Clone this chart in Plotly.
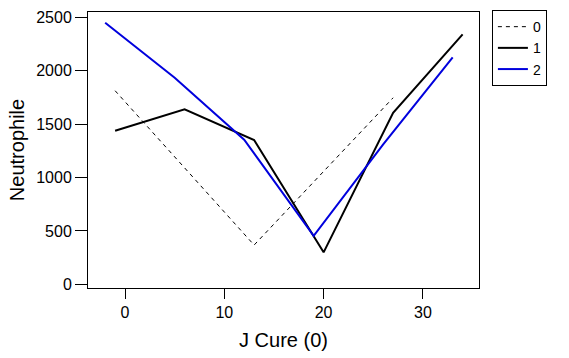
import plotly.graph_objects as go

# Series: group 0 (dashed), 1 (black), 2 (blue)
x0 = [-1, 13, 27]
y0 = [1813, 368, 1747]

x1 = [-1, 6, 13, 20, 27, 34]
y1 = [1438, 1638, 1351, 300, 1607, 2341]

x2 = [-2, 5, 12, 19, 26, 33]
y2 = [2449, 1935, 1355, 455, 1310, 2125]

series_names = ["0", "1", "2"]
x_ticks = [0, 10, 20, 30]
y_ticks = [0, 500, 1000, 1500, 2000, 2500]

FONT = "Liberation Sans, Arial, sans-serif"

fig = go.Figure()
fig.add_trace(go.Scatter(x=x0, y=y0, mode="lines", name=series_names[0],
                         line=dict(color="black", width=1, dash="4px,4px")))
fig.add_trace(go.Scatter(x=x1, y=y1, mode="lines", name=series_names[1],
                         line=dict(color="black", width=2)))
fig.add_trace(go.Scatter(x=x2, y=y2, mode="lines", name=series_names[2],
                         line=dict(color="#0000DD", width=2)))

fig.update_layout(
    width=569, height=358,
    margin=dict(l=88, r=90, t=12, b=70, autoexpand=False),
    paper_bgcolor="white", plot_bgcolor="white",
    font=dict(family=FONT, size=16, color="black"),
    showlegend=True,
    legend=dict(x=1.033, y=1.007, xanchor="left", yanchor="top",
                bordercolor="black", borderwidth=1, bgcolor="white",
                font=dict(size=14), itemwidth=30, tracegroupgap=0,
                entrywidth=40, entrywidthmode="pixels"),
)
fig.update_xaxes(range=[-3.73, 35.65], tickvals=x_ticks, ticks="outside", ticklen=10,
                 tickcolor="black", showline=True, linecolor="black", linewidth=1,
                 mirror=True, showgrid=False, zeroline=False, automargin=False,
                 tickfont=dict(size=16),
                 title=dict(text="J Cure (0)", font=dict(size=20), standoff=12))
fig.update_yaxes(range=[-34, 2550], tickvals=y_ticks, ticks="outside", ticklen=12,
                 tickcolor="black", showline=True, linecolor="black", linewidth=1,
                 mirror=True, showgrid=False, zeroline=False, automargin=False,
                 tickfont=dict(size=16),
                 title=dict(text="Neutrophile", font=dict(size=20), standoff=6))

fig.write_html("out.html", config={"displayModeBar": False},
               post_script="document.body.style.margin='0';document.body.style.overflow='hidden';")
